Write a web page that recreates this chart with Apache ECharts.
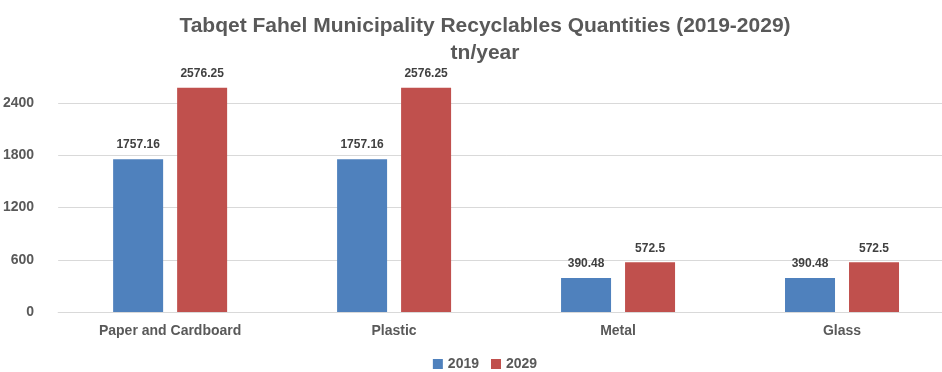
<!DOCTYPE html>
<html>
<head>
<meta charset="utf-8">
<script src="https://cdn.jsdelivr.net/npm/echarts@6/dist/echarts.min.js"></script>
<style>
  html, body { margin: 0; padding: 0; background: #fff; overflow: hidden; }
  #chart { width: 970px; height: 372px; }
</style>
</head>
<body>
<div id="chart"></div>
<script>
// Recyclable quantities per material, tonnes per year
const categories = ['Paper and Cardboard', 'Plastic', 'Metal', 'Glass'];
const years = ['2019', '2029'];
const values2019 = [1757.16, 1757.16, 390.48, 390.48];
const values2029 = [2576.25, 2576.25, 572.5, 572.5];

const FONT = "'Liberation Sans', Arial, sans-serif";
const textGray = '#595959';

const chart = echarts.init(document.getElementById('chart'));

function barSeries(name, data, color) {
  return {
    name: name,
    type: 'bar',
    data: data,
    barWidth: 50,
    barGap: '28%',
    itemStyle: { color: color },
    label: {
      show: true,
      position: 'top',
      distance: 8,
      color: '#404040',
      fontFamily: FONT,
      fontWeight: 'bold',
      fontSize: 12
    }
  };
}

chart.setOption({
  animation: false,
  title: {
    text: 'Tabqet Fahel Municipality Recyclables Quantities (2019-2029)\ntn/year',
    left: 'center',
    top: 8,
    textStyle: {
      fontFamily: FONT,
      fontWeight: 'bold',
      fontSize: 21,
      lineHeight: 27,
      color: textGray
    }
  },
  legend: {
    data: years,
    top: 352,
    left: 'center',
    icon: 'rect',
    itemWidth: 10,
    itemHeight: 10,
    itemGap: 12,
    textStyle: { fontFamily: FONT, fontWeight: 'bold', fontSize: 14, color: textGray }
  },
  grid: { left: 57, right: 16, top: 51, bottom: 60 },
  xAxis: {
    type: 'category',
    data: categories,
    axisTick: { show: false },
    axisLine: { lineStyle: { color: '#d9d9d9' } },
    axisLabel: { fontFamily: FONT, fontWeight: 'bold', fontSize: 14, color: textGray, margin: 12 }
  },
  yAxis: {
    type: 'value',
    min: 0,
    max: 3000,
    interval: 600,
    axisLine: { show: false },
    axisTick: { show: false },
    axisLabel: {
      fontFamily: FONT, fontWeight: 'bold', fontSize: 14, color: textGray, margin: 24,
      formatter: v => (v >= 3000 ? '' : String(v))
    },
    splitLine: {
      lineStyle: { color: ['#d9d9d9', '#d9d9d9', '#d9d9d9', '#d9d9d9', '#d9d9d9', 'rgba(0,0,0,0)'] }
    }
  },
  series: [
    barSeries(years[0], values2019, '#4F81BD'),
    barSeries(years[1], values2029, '#C0504D')
  ]
});
</script>
</body>
</html>
